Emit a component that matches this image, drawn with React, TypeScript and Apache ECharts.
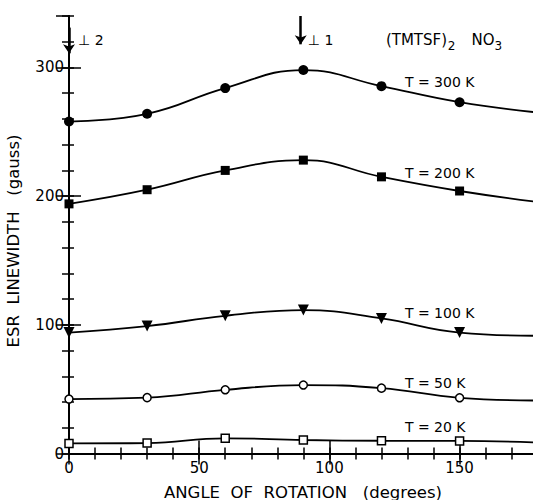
import { useEffect, useRef } from "react";
import * as echarts from "echarts";

// ---- data ----
const angles = [0, 30, 60, 90, 120, 150];
const curveEndAngle = 180;

const width300K = [258, 264, 284, 298, 285.5, 273];
const width300KEnd = 265;
const width200K = [194, 205, 220, 228, 215, 204];
const width200KEnd = 195.5;
const width100K = [94, 99, 107, 111.5, 105, 94];
const width100KEnd = 91.5;
const width50K = [42.3, 43.4, 49.5, 53.2, 50.8, 43.3];
const width50KEnd = 41.2;
const width20K = [7.8, 8.1, 11.8, 10.5, 9.9, 9.8];
const width20KEnd = 8.6;

const curveLabels = ["T = 300 K", "T = 200 K", "T = 100 K", "T = 50 K", "T = 20 K"];
const curveLabelAngle = 129;
const curveLabelWidth = [288.7, 218, 109.2, 54.8, 20.6];

const xTitle = "ANGLE  OF  ROTATION   (degrees)";
const yTitle = "ESR  LINEWIDTH   (gauss)";

const FONT = "DejaVu Sans";

function makeSeries(
  vals: number[],
  end: number,
  symbol: string,
  size: number,
  filled: boolean,
  rotate = 0,
  extra: any = {}
) {
  return {
    type: "line",
    xAxisIndex: 0,
    yAxisIndex: 0,
    smooth: 0.45,
    data: [
      ...angles.map((a, i) => [a, vals[i]]),
      { value: [curveEndAngle, end], symbol: "none" },
    ],
    symbol,
    symbolSize: size,
    symbolRotate: rotate,
    showSymbol: true,
    showAllSymbol: true,
    clip: false,
    silent: true,
    lineStyle: { color: "#000", width: 1.8 },
    itemStyle: filled
      ? { color: "#000", borderWidth: 0 }
      : { color: "#fff", borderColor: "#000", borderWidth: 1.5 },
    z: 3,
    ...extra,
  };
}

export default function App() {
  const ref = useRef<HTMLDivElement>(null);

  useEffect(() => {
    document.body.style.margin = "0";
    const chart = echarts.init(ref.current!, null, { renderer: "svg" });

    const gridBox = { left: 69, top: 16, width: 468.7, height: 437.5, outerBoundsMode: "none", containLabel: false };

    const axisLine = { show: true, lineStyle: { color: "#000", width: 2 } };
    const label = { color: "#000", fontFamily: FONT, fontSize: 15 };

    const option: any = {
      animation: false,
      backgroundColor: "#fff",
      textStyle: { fontFamily: FONT },
      grid: [gridBox, { ...gridBox }],
      xAxis: [
        {
          gridIndex: 0, type: "value", position: "bottom", min: 0, max: 180, interval: 50,
          axisLine, splitLine: { show: false },
          axisTick: { show: true, inside: true, length: 13, lineStyle: { color: "#000", width: 1.5 } },
          axisLabel: { ...label, margin: 7, showMaxLabel: false },
        },
        {
          gridIndex: 0, type: "value", position: "top", min: 0, max: 180, interval: 50,
          axisLine, splitLine: { show: false },
          axisTick: { show: true, inside: true, length: 11, lineStyle: { color: "#000", width: 1.5 } },
          axisLabel: { show: false },
        },
        {
          gridIndex: 1, type: "value", position: "bottom", min: 0, max: 180, interval: 10,
          axisLine: { show: false }, splitLine: { show: false },
          axisTick: { show: true, inside: true, length: 6, lineStyle: { color: "#000", width: 1.5 } },
          axisLabel: { show: false },
        },
        {
          gridIndex: 1, type: "value", position: "top", min: 0, max: 180, interval: 10,
          axisLine: { show: false }, splitLine: { show: false },
          axisTick: { show: true, inside: true, length: 6, lineStyle: { color: "#000", width: 1.5 } },
          axisLabel: { show: false },
        },
      ],
      yAxis: [
        {
          gridIndex: 0, type: "value", position: "left", min: 0, max: 340, interval: 100,
          axisLine, splitLine: { show: false },
          axisTick: { show: true, inside: true, length: 12, lineStyle: { color: "#000", width: 1.5 } },
          axisLabel: { ...label, margin: 5, showMaxLabel: false },
        },
        {
          gridIndex: 0, type: "value", position: "right", min: 0, max: 340, interval: 100,
          axisLine, splitLine: { show: false },
          axisTick: { show: true, inside: true, length: 13, lineStyle: { color: "#000", width: 1.5 } },
          axisLabel: { show: false },
        },
        {
          gridIndex: 1, type: "value", position: "left", min: 0, max: 340, interval: 20,
          axisLine: { show: false }, splitLine: { show: false },
          axisTick: { show: true, inside: true, length: 5, lineStyle: { color: "#000", width: 1.5 } },
          axisLabel: { show: false },
        },
        {
          gridIndex: 1, type: "value", position: "right", min: 0, max: 340, interval: 20,
          axisLine: { show: false }, splitLine: { show: false },
          axisTick: { show: true, inside: true, length: 7, lineStyle: { color: "#000", width: 1.5 } },
          axisLabel: { show: false },
        },
      ],
      series: [
        makeSeries(width300K, width300KEnd, "circle", 10, true, 0, {
          markLine: {
            silent: true,
            symbol: ["none", "arrow"],
            symbolSize: 9,
            label: { show: false },
            lineStyle: { color: "#000", width: 2.5, type: "solid" },
            data: [
              [{ coord: [0, 331] }, { coord: [0, 311] }],
              [{ coord: [89, 340] }, { coord: [89, 318] }],
            ],
          },
        }),
        makeSeries(width200K, width200KEnd, "rect", 9, true),
        makeSeries(width100K, width100KEnd, "triangle", 11, true, 180),
        makeSeries(width50K, width50KEnd, "circle", 8, false),
        makeSeries(width20K, width20KEnd, "rect", 8, false),
      ],
    };

    chart.setOption(option);

    const px = (x: number, y: number) =>
      chart.convertToPixel({ xAxisIndex: 0, yAxisIndex: 0 }, [x, y]) as number[];

    const txt = (x: number, y: number, text: string, size = 15, align = "left") => {
      const p = px(x, y);
      return {
        type: "text",
        x: p[0],
        y: p[1],
        silent: true,
        style: {
          text,
          fill: "#000",
          font: `${size}px "${FONT}"`,
          textAlign: align,
          textVerticalAlign: "middle",
        },
      };
    };

    const graphics: any[] = [];
    curveLabels.forEach((t, i) => graphics.push(txt(curveLabelAngle, curveLabelWidth[i], t, 14)));
    graphics.push(txt(3.5, 321.7, "⊥ 2", 14));
    graphics.push(txt(91.7, 321.7, "⊥ 1", 14));
    graphics.push(txt(121.7, 321.7, "(TMTSF)", 15));
    graphics.push(txt(145.5, 316.7, "2", 12));
    graphics.push(txt(154.6, 321.7, "NO", 15));
    graphics.push(txt(163.4, 316.7, "3", 12));

    graphics.push({
      type: "text",
      x: 303,
      y: 492,
      silent: true,
      style: { text: xTitle, fill: "#000", font: `16.5px "${FONT}"`, textAlign: "center", textVerticalAlign: "middle" },
    });
    graphics.push({
      type: "text",
      x: 13,
      y: 241,
      rotation: Math.PI / 2,
      silent: true,
      style: { text: yTitle, fill: "#000", font: `16.5px "${FONT}"`, textAlign: "center", textVerticalAlign: "middle" },
    });

    chart.setOption({ graphic: graphics });

    return () => chart.dispose();
  }, []);

  return <div ref={ref} style={{ width: 533, height: 500, position: "fixed", left: 0, top: 0 }} />;
}
